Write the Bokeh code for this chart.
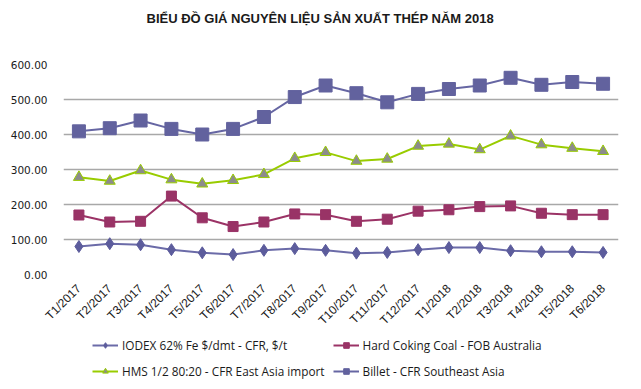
import math
from bokeh.plotting import figure
from bokeh.layouts import column
from bokeh.models import Legend, LegendItem, NumeralTickFormatter, Range1d, Title
from bokeh.embed import file_html
from bokeh.resources import INLINE

months = ["T1/2017", "T2/2017", "T3/2017", "T4/2017", "T5/2017", "T6/2017",
          "T7/2017", "T8/2017", "T9/2017", "T10/2017", "T11/2017", "T12/2017",
          "T1/2018", "T2/2018", "T3/2018", "T4/2018", "T5/2018", "T6/2018"]
iodex = [80, 88, 85, 71, 62, 57, 69, 74, 69, 61, 63, 71, 77, 77, 68, 65, 65, 63]
coal = [170, 150, 152, 224, 162, 137, 150, 173, 171, 152, 158, 181, 185, 194, 196, 175, 171, 171]
hms = [278, 267, 297, 271, 259, 269, 286, 332, 349, 324, 330, 367, 373, 357, 396, 371, 361, 352]
billet = [409, 418, 440, 416, 400, 416, 450, 507, 540, 518, 492, 516, 530, 540, 562, 542, 550, 545]

names = ["IODEX 62% Fe $/dmt - CFR, $/t", "Hard Coking Coal - FOB Australia",
         "HMS 1/2 80:20 - CFR East Asia import", "Billet - CFR Southeast Asia"]
title_text = "BIỂU ĐỒ GIÁ NGUYÊN LIỆU SẢN XUẤT THÉP NĂM 2018"

styles = [
    dict(line_color="#6b6ba8", marker="diamond", size=12, fill_color="#5c5c9c", mline="#5c5c9c"),
    dict(line_color="#9b3366", marker="square", size=10, fill_color="#993366", mline="#993366"),
    dict(line_color="#99cc00", marker="triangle", size=11, fill_color="#8c8c8c", mline="#99cc00"),
    dict(line_color="#6666a3", marker="square", size=13, fill_color="#62629e", mline="#62629e"),
]
series = [iodex, coal, hms, billet]

p = figure(x_range=months, width=633, height=336, output_backend="svg",
           toolbar_location=None, min_border_left=63, min_border_right=15,
           min_border_top=64, min_border_bottom=62)
p.title_location = None
p.y_range = Range1d(0, 600)
p.outline_line_color = None

p.add_layout(Title(text=" ", text_font_size="1px", standoff=36), "above")
p.add_layout(Title(text=title_text, align="left", offset=83,
                   text_font="Liberation Sans", text_font_size="13px",
                   text_font_style="bold", text_color="#1a1a1a", standoff=0), "above")

p.xgrid.grid_line_color = None
p.ygrid.grid_line_color = "#a8a8a8"
p.ygrid.grid_line_width = 1.5
p.yaxis.ticker = [0, 100, 200, 300, 400, 500, 600]
p.yaxis.formatter = NumeralTickFormatter(format="0.00")
for ax in (p.xaxis[0], p.yaxis[0]):
    ax.axis_line_color = None
    ax.major_tick_line_color = None
    ax.minor_tick_line_color = None
    ax.major_label_text_color = "#1a1a1a"
p.yaxis.major_label_text_font = "DejaVu Sans"
p.yaxis.major_label_text_font_size = "10.5px"
p.yaxis.major_label_standoff = 10
p.xaxis.major_label_text_font = "Liberation Sans"
p.xaxis.major_label_text_font_size = "12px"
p.xaxis.major_label_orientation = math.pi / 4
p.xaxis.major_label_standoff = 6

for vals, st in zip(series, styles):
    p.line(months, vals, line_color=st["line_color"], line_width=2)
    p.scatter(months, vals, marker=st["marker"], size=st["size"],
              fill_color=st["fill_color"], line_color=st["mline"], line_width=1)

# legend strip below the chart (its frame is aligned with the chart's frame)
lg = figure(width=633, height=45, output_backend="svg", toolbar_location=None,
            x_range=Range1d(0, 1), y_range=Range1d(0, 1),
            x_axis_location=None, y_axis_location=None,
            min_border_left=63, min_border_right=15, min_border_top=0, min_border_bottom=0)
lg.title_location = None
lg.outline_line_color = None
lg.grid.visible = False
items = []
for name, st in zip(names, styles):
    lr = lg.line(x=[float("nan")], y=[float("nan")], line_color=st["line_color"], line_width=2)
    mr = lg.scatter(x=[float("nan")], y=[float("nan")], marker=st["marker"], size=st["size"],
                    fill_color=st["fill_color"], line_color=st["mline"])
    items.append(LegendItem(label=name, renderers=[lr, mr], index=0))
legend = Legend(items=[items[0], items[2], items[1], items[3]],
                ncols=2, location=(29, 1), orientation="vertical",
                border_line_color=None, background_fill_alpha=0,
                label_text_font="Open Sans", label_text_font_size="11.8px",
                label_text_color="#1a1a1a", glyph_width=26, glyph_height=14,
                label_standoff=4, spacing=8, padding=0, margin=0, label_height=18)
lg.add_layout(legend, "center")

open("out.html", "w").write(file_html(column(p, lg, spacing=0), INLINE))
